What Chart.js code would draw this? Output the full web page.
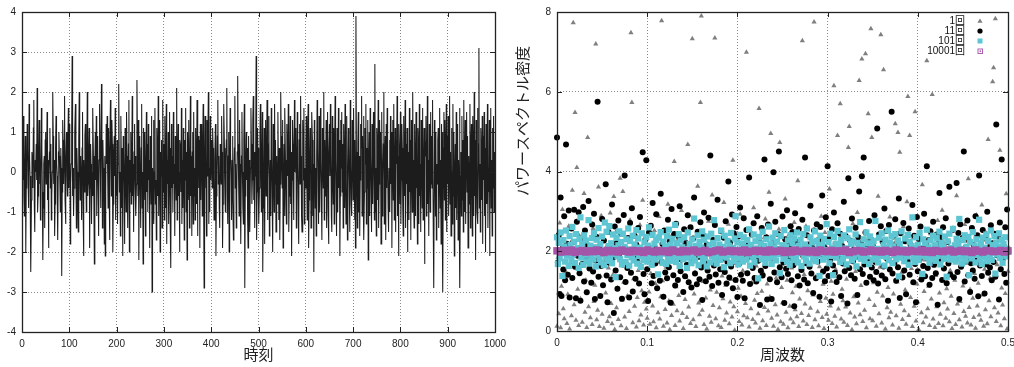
<!DOCTYPE html>
<html>
<head>
<meta charset="utf-8">
<script src="https://cdn.jsdelivr.net/npm/chart.js@4/dist/chart.umd.min.js"></script>
<style>
  html, body { margin: 0; padding: 0; background: #fff; overflow: hidden; width: 1014px; height: 367px; }
  #wrapL { position: absolute; left: 0; top: 0; width: 520px; height: 367px; }
  #wrapR { position: absolute; left: 500px; top: 0; width: 530px; height: 367px; }
</style>
</head>
<body>
<div id="wrapL"><canvas id="timeChart" width="520" height="367"></canvas></div>
<div id="wrapR"><canvas id="psdChart" width="530" height="367"></canvas></div>
<script>
/* ===== Data ===== */

const TIME_TITLE = '時刻';
const FREQ_TITLE = '周波数';
const PSD_TITLE = 'パワースペクトル密度';
const SERIES_NAMES = ['1回', '11回', '101回', '10001回'];

const TIME_TICKS = { min: 0, max: 1000, step: 100 };
const SIGNAL_TICKS = { min: -4, max: 4, step: 1 };
const FREQ_TICKS = { min: 0, max: 0.5, step: 0.1 };
const PSD_TICKS = { min: 0, max: 8, step: 2 };

// time series, t = 0 .. 999
const signal = [
  0.3,-0.2,0.8,1.4,-0.6,-1.1,0.1,0.9,-2.0,-0.4,0.2,1.2,0.6,-0.3,-0.9,1.7,0.4,-0.1,-1.3,-2.5,
  -0.7,0.5,0.2,-0.4,1.1,1.8,-0.8,-1.5,0.3,0.0,0.7,-0.2,2.1,-1.0,-0.6,0.4,1.3,-0.3,0.9,-1.2,
  -0.1,1.6,0.6,-0.5,-2.2,-0.9,0.2,0.4,-1.4,0.8,1.0,-0.3,0.1,1.5,-0.7,0.3,-1.9,-0.2,0.5,1.1,
  -0.4,0.7,-1.2,-0.6,0.0,2.0,0.9,-0.3,0.3,-1.6,-0.8,0.6,1.4,0.2,-0.1,-0.9,-1.7,0.5,1.0,0.4,
  -0.2,-1.0,0.6,0.1,-2.6,-0.5,1.3,0.8,-0.3,0.4,1.9,-0.7,-1.3,0.2,1.0,-0.1,-0.6,0.7,1.6,-0.4,
  0.5,1.2,-1.8,-0.3,0.2,0.9,2.9,-0.6,0.1,-1.1,-0.4,0.3,1.0,1.7,-0.2,-1.4,0.6,0.0,-0.8,-1.5,
  0.8,2.0,0.1,-0.7,0.4,-0.2,-1.2,0.6,1.5,-0.9,-2.1,0.3,-0.5,0.9,1.2,-0.1,-1.0,0.2,2.0,-0.6,
  -0.3,0.5,1.1,-1.9,-0.4,0.7,0.2,-1.3,0.0,-0.6,1.6,0.4,-0.8,-2.3,0.1,1.0,-0.2,1.4,-1.1,0.3,
  0.9,-0.4,-1.6,0.3,1.7,0.6,-0.9,-0.2,2.2,0.5,-1.4,0.8,0.1,-0.3,-1.8,0.4,-2.1,-0.5,1.2,0.2,
  1.4,0.1,-0.9,1.1,-0.3,-1.7,0.5,1.8,0.2,-0.6,1.3,0.7,-2.0,-0.8,0.4,0.9,-0.1,1.6,-1.2,-0.4,
  -0.6,0.8,-1.3,0.2,1.2,2.2,-0.5,0.0,-1.6,1.4,0.3,-0.9,0.6,-2.1,0.9,0.5,-0.3,-1.8,1.1,0.1,
  -1.0,1.5,0.4,-0.2,-1.4,0.7,1.8,-2.0,0.3,-0.5,1.0,-0.8,-0.1,1.9,-0.6,0.2,-1.5,0.5,1.2,-0.3,
  0.4,-1.1,-0.3,2.3,0.8,-0.6,1.3,-2.2,0.1,0.9,-0.4,-1.4,0.6,1.7,-0.9,0.0,-2.3,1.1,0.5,-0.7,
  1.0,-1.6,0.2,1.5,-0.5,0.7,-1.0,1.2,-0.2,0.3,-1.9,0.9,0.6,-0.8,1.4,-3.0,0.1,-0.4,1.3,-1.3,
  0.0,1.6,-0.8,-0.2,-1.7,1.1,0.4,-0.6,1.9,-1.1,0.2,1.3,-2.0,0.5,-0.1,0.8,-1.4,0.6,1.8,-0.5,
  0.7,-1.2,1.4,0.1,-0.9,1.7,-1.8,0.3,-0.3,1.0,-1.3,-0.1,1.5,-0.9,0.6,-2.4,1.2,-0.4,0.4,-1.0,
  1.5,-0.3,0.2,-1.6,0.9,0.4,-0.7,2.1,-1.2,0.1,1.2,-0.6,0.0,-2.0,0.8,0.6,-0.5,1.6,-1.3,0.3,
  -0.9,1.1,0.1,-1.7,0.8,-0.2,1.6,-1.0,0.5,-2.2,1.0,0.3,-0.7,1.3,-1.4,0.2,1.9,-0.6,0.4,-1.6,
  0.5,1.0,-1.3,1.5,-0.6,0.1,-1.2,1.1,0.3,-0.8,1.8,-1.6,0.0,0.9,-0.4,0.8,-1.9,1.2,-0.7,0.6,
  1.2,-1.1,0.4,1.7,-0.8,-2.9,0.3,1.4,-0.4,0.6,-1.6,1.3,-0.1,0.9,2.0,-1.3,0.1,-1.0,1.4,-0.2,
  0.8,0.2,-0.4,1.1,0.6,-0.1,-1.2,-0.5,0.3,1.2,-2.1,-0.6,0.0,0.9,1.8,-0.3,0.4,-0.9,-1.4,0.7,
  0.1,-0.3,1.4,0.5,-1.9,-0.8,0.2,1.7,0.6,-0.2,-1.0,0.3,0.8,2.1,-0.5,-1.3,0.4,1.0,-2.0,-0.1,
  1.6,0.5,-0.2,-1.2,0.3,0.9,-0.7,-1.7,0.1,0.6,1.9,-0.4,0.2,-1.4,-0.6,0.5,2.4,0.7,-0.3,-1.1,
  1.3,0.2,-0.5,-1.8,0.4,1.5,0.0,-0.9,-1.3,0.8,1.7,-2.9,-0.6,0.3,1.0,-0.2,0.6,-1.2,-1.9,0.9,
  -0.4,0.3,-1.5,0.1,1.6,0.7,-0.8,-0.2,1.3,1.9,-0.7,0.5,-1.4,-0.1,0.4,2.9,-1.7,-0.5,1.1,0.2,
  0.6,-1.3,-0.4,0.9,1.7,0.2,-1.0,0.4,1.5,-2.5,-0.9,-0.1,1.1,-1.8,0.3,1.3,-0.6,0.0,1.8,-1.2,
  -0.2,0.7,1.4,-1.6,-0.4,0.3,-1.1,1.6,0.5,-0.7,-2.0,1.2,0.2,-1.0,1.7,-0.3,0.8,-1.5,-0.6,0.4,
  -0.8,1.5,0.1,-1.2,0.6,-1.7,-0.3,2.0,0.9,0.2,-0.4,1.3,-1.9,-0.5,0.7,-1.1,1.6,0.3,-0.6,-1.3,
  1.2,0.4,-0.1,1.7,-1.5,-0.6,0.3,1.4,-0.8,0.5,-2.1,-0.2,1.3,0.7,-0.5,-1.2,1.8,0.0,0.6,1.1,
  -1.4,-0.3,1.5,0.2,-0.9,-1.8,0.8,1.2,-0.3,1.9,0.4,-1.1,-1.5,0.6,1.3,-0.2,1.6,-1.3,0.1,-0.4,
  0.6,1.4,-0.2,-1.2,0.9,1.7,-1.9,-0.7,0.3,1.1,0.5,-1.4,-0.4,1.5,0.8,-1.1,0.2,-2.5,1.3,0.7,
  -0.9,0.1,-1.6,0.4,1.8,0.6,-0.5,-1.3,1.4,-0.1,-1.0,1.6,0.3,-0.7,-1.7,1.1,0.5,-0.4,2.0,-1.2,
  0.8,-0.6,0.2,1.3,-1.4,0.6,1.5,-0.9,-1.8,0.4,1.2,-0.1,1.7,0.5,-1.1,-1.5,1.4,0.0,-0.8,1.1,
  -1.3,0.5,1.9,0.3,-0.7,-1.6,1.1,0.2,-1.0,1.6,-0.4,0.8,-2.1,-0.6,1.3,0.1,1.5,-0.5,0.7,-1.4,
  1.2,0.3,-0.9,1.7,-0.2,-1.3,0.6,1.4,-1.7,-0.4,1.1,0.7,-0.6,-1.5,1.8,0.2,-0.8,-1.1,1.3,0.5,
  -0.7,1.6,0.0,-1.2,0.8,-1.9,3.9,0.5,-0.3,-1.4,0.7,1.5,-1.0,0.4,-1.6,-0.2,1.2,0.6,1.9,-1.1,
  0.9,-0.3,1.4,-1.7,-0.5,1.1,0.2,1.7,-1.3,0.6,-0.4,1.3,-2.2,0.1,1.0,-1.1,1.6,0.4,-0.6,-1.5,
  1.2,0.4,-0.8,1.5,0.3,-1.2,2.7,-1.0,0.1,-1.6,1.1,0.6,-0.7,1.8,-1.4,-0.3,1.3,0.5,1.0,-1.8,
  0.4,1.5,-1.1,-0.2,0.7,2.0,-1.3,0.2,0.9,-1.7,1.2,-0.4,1.6,0.3,-0.9,-1.5,0.1,0.8,-1.0,1.4,
  -0.3,1.0,-1.9,0.5,1.3,-0.7,1.7,-1.2,-0.1,1.1,-1.5,0.8,0.2,1.9,-1.1,0.4,-2.1,1.2,0.3,-0.8,
  1.5,-1.3,-0.2,1.2,0.6,-0.9,-1.6,1.4,0.2,-0.6,1.8,-1.4,0.7,-0.3,1.1,-2.0,0.0,0.5,-1.2,1.6,
  -0.5,0.8,-1.7,1.3,0.4,-1.0,2.0,0.3,-0.7,-1.4,1.2,0.1,-1.1,1.5,-0.4,0.7,-1.8,1.1,0.6,-1.3,
  1.7,-0.6,0.2,-1.5,1.3,0.5,-0.9,1.6,-1.2,-0.3,1.1,-2.3,0.8,0.4,1.4,-1.1,-0.2,1.9,-0.8,0.3,
  -1.6,1.2,0.5,-1.0,1.5,-0.3,0.9,-0.4,1.8,-0.7,-1.2,-2.9,1.3,0.4,-1.1,1.0,-1.7,0.2,-0.3,0.8,
  1.1,-1.4,0.1,1.6,-0.9,0.3,-1.8,1.2,-0.5,1.0,-3.0,0.6,1.5,-0.7,1.3,-1.2,0.4,1.7,-1.5,0.9,
  -0.3,1.4,-1.1,0.0,1.9,-0.8,0.5,-1.6,1.1,0.2,-1.3,1.7,-0.6,1.0,-2.1,-0.2,0.7,-0.9,1.5,-1.2,
  0.6,1.2,-1.7,0.3,-0.4,1.6,-2.9,-0.1,0.5,-1.1,1.4,-0.7,0.8,-1.5,1.8,0.1,-1.0,1.3,-1.3,0.7,
  1.5,-0.5,0.9,-1.9,0.2,0.4,-0.8,1.7,-1.4,0.6,1.2,-0.3,-1.6,1.4,0.5,-1.1,2.0,-0.6,0.8,-2.2,
  1.3,0.3,-1.0,1.6,-1.3,0.7,3.1,-0.9,0.2,-1.5,1.1,0.5,-0.7,1.4,-1.8,0.9,-0.2,1.5,-1.1,0.6,
  -2.0,1.2,0.4,-0.8,1.7,-1.4,0.1,-0.5,1.3,-2.1,0.7,1.6,-0.9,0.3,-1.6,1.1,-0.4,1.4,-1.0,0.5
];

// spectra, frequency step 0.001 (0 .. 0.5)
const psd1 = [
  0.12,1.85,0.43,2.71,0.08,1.12,3.05,0.56,0.31,2.24,
  1.48,0.19,0.92,2.63,0.05,1.71,0.38,3.53,7.73,0.66,
  5.48,0.27,4.1,1.05,0.14,2.38,0.81,1.62,0.22,3.12,
  3.45,0.47,1.28,0.09,4.85,0.61,2.05,0.33,1.94,0.16,
  2.57,0.74,1.15,7.2,0.28,0.52,3.61,0.11,1.37,2.89,
  0.42,9.1,0.07,1.76,0.95,2.12,0.24,1.58,0.36,2.96,
  0.69,0.18,1.41,3.37,0.04,2.47,0.58,1.08,0.29,1.89,
  3.83,0.13,0.77,3.5,1.22,0.35,2.31,0.06,0.88,1.67,
  0.49,2.78,7.48,5.73,0.21,1.31,0.62,2.18,0.1,0.84,
  1.52,0.26,2.66,0.4,1.01,3.28,0.15,0.72,1.83,0.55,
  0.32,2.09,0.98,0.17,1.44,10.2,0.63,0.23,2.52,1.19,
  0.08,1.73,0.46,2.87,0.3,0.86,7.78,1.26,0.12,2.01,
  0.54,1.6,0.2,3.18,0.75,0.03,1.96,0.39,2.42,0.67,
  4.25,0.14,1.11,0.51,2.29,0.89,0.25,1.65,3.02,0.44,
  0.06,2.21,0.79,1.34,0.34,4.68,0.6,1.87,0.19,2.59,
  7.33,0.28,0.93,1.47,0.11,2.14,3.63,0.7,0.41,5.73,
  7.9,0.52,1.24,0.16,2.36,0.83,0.05,1.56,2.75,0.37,
  1.03,0.22,3.41,0.64,1.79,7.35,0.31,0.97,2.03,0.13,
  0.58,2.49,0.09,1.38,0.81,3.22,0.27,1.15,0.45,1.92,
  2.68,0.18,0.73,1.29,0.35,4.28,0.61,0.02,1.69,2.27,
  0.48,1.07,0.24,2.93,0.87,0.15,1.51,0.38,8.6,0.69,
  6.99,0.33,1.82,0.1,2.11,0.56,1.21,0.29,3.09,0.77,
  0.2,1.63,0.94,0.43,5.58,0.07,2.34,1.0,0.26,1.45,
  0.59,2.81,0.14,1.18,0.5,3.48,0.85,4.95,0.32,1.74,
  0.12,2.19,0.66,1.33,0.4,0.04,2.55,4.73,0.23,1.09,
  0.71,0.17,1.94,3.31,0.47,1.27,0.08,2.41,0.62,0.3,
  1.58,0.96,0.21,2.72,0.53,1.12,0.36,3.77,0.11,0.8,
  2.06,0.44,7.28,0.25,1.42,0.68,2.63,0.16,1.01,0.39,
  3.14,0.57,1.76,0.09,0.9,7.75,0.28,1.36,2.24,0.48,
  0.13,1.61,0.74,2.88,0.34,1.17,0.06,2.47,0.82,0.42,
  1.99,0.27,3.56,0.63,1.25,0.19,0.92,6.15,0.37,1.54,
  0.1,4.9,0.55,2.16,5.7,0.3,1.05,0.76,0.22,2.38,
  0.6,1.3,0.14,4.6,5.13,0.45,1.88,0.03,2.69,0.86,
  0.35,1.49,0.18,2.97,0.7,6.28,0.41,1.14,6.82,0.24,
  1.67,0.52,6.95,0.08,2.27,5.45,0.79,0.31,7.58,4.85,
  0.26,1.21,0.64,2.04,0.12,0.97,3.38,0.43,1.6,7.43,
  0.2,0.88,6.55,1.35,0.05,2.51,0.58,1.09,0.33,2.86,
  0.47,1.72,0.15,0.93,2.2,5.2,0.38,1.23,4.98,0.07,
  4.48,0.67,1.46,0.29,2.62,0.51,1.03,0.17,3.24,5.88,
  0.39,4.9,0.84,1.57,0.11,2.33,0.62,5.5,0.25,1.18,
  0.73,0.04,2.09,1.31,0.46,3.67,0.21,0.99,1.78,0.35,
  6.78,0.56,1.12,0.14,2.44,0.8,5.93,0.3,1.63,0.09,
  1.39,0.61,2.77,0.19,0.95,0.42,1.84,3.03,0.13,0.71,
  2.15,0.32,1.06,0.55,8.9,0.23,1.52,0.87,0.06,2.58,
  0.44,1.27,0.16,3.39,0.68,1.95,0.28,0.74,2.3,0.1,
  1.13,0.49,2.67,0.37,1.7,0.2,3.82,0.59,1.04,0.15,
  2.22,0.82,0.34,1.44,0.07,2.91,0.63,1.2,0.4,1.86,
  0.27,3.16,0.9,0.12,1.55,0.53,2.45,0.18,4.8,0.76,
  1.32,0.36,2.02,6.25,6.6,0.58,7.83,0.24,1.66,0.45,
  2.71,4.53,0.13,1.08,0.65,2.19,0.31,0.94,3.44,0.05,
  1.5
];

const psd11 = [
  4.85,1.72,2.41,0.93,3.35,0.88,2.06,1.54,2.88,1.27,
  4.68,2.19,1.41,3.02,0.84,1.96,2.57,1.33,2.23,3.04,
  1.61,0.82,2.74,1.89,2.98,1.45,0.76,2.31,1.68,3.11,
  1.24,2.52,1.83,0.97,2.15,3.26,1.57,2.03,1.21,2.67,
  1.49,2.94,0.8,1.77,2.36,5.75,1.36,2.12,0.88,1.63,
  2.81,1.15,2.27,1.92,3.68,1.39,0.72,2.48,1.71,2.09,
  1.29,3.17,1.84,0.45,2.62,1.52,2.2,1.06,2.77,1.93,
  1.35,2.44,0.81,1.67,2.91,3.9,1.23,2.05,1.58,2.33,
  0.84,2.71,1.46,3.08,0.99,1.85,2.39,1.31,2.16,1.74,
  2.58,1.19,2.86,1.62,2.0,4.48,1.43,0.92,2.29,4.28,
  1.55,0.75,2.47,1.81,2.64,1.2,3.21,1.38,2.11,1.69,
  2.93,1.07,1.89,2.35,1.26,3.44,1.73,2.18,0.86,2.52,
  1.47,2.08,1.32,2.79,1.6,2.25,0.71,3.06,1.88,1.4,
  2.43,1.14,2.69,1.95,1.28,2.37,3.13,1.5,1.79,2.02,
  0.98,2.55,1.37,2.21,1.66,2.9,1.22,1.97,2.6,1.09,
  1.76,2.32,3.35,1.44,2.13,1.17,2.49,1.86,1.3,2.73,
  1.59,0.78,2.4,2.97,1.7,1.25,2.17,1.52,2.84,1.36,
  4.4,1.91,1.13,2.28,1.64,2.66,1.42,1.99,3.29,1.21,
  2.06,1.55,2.5,0.9,1.82,2.34,1.48,2.75,1.19,1.73,
  3.75,1.34,2.22,1.62,2.92,1.07,2.45,1.8,1.28,2.61,
  0.85,2.37,1.69,3.1,1.41,2.04,1.26,2.83,0.82,1.93,
  2.53,1.45,2.15,3.85,1.18,1.87,2.42,1.58,2.7,1.33,
  1.99,1.24,2.88,1.76,2.26,0.65,1.51,2.58,1.39,2.1,
  4.3,1.63,2.35,0.79,2.67,1.83,1.3,3.19,0.8,2.2,
  3.98,1.47,2.74,1.95,1.22,2.43,4.5,1.6,2.06,1.35,
  2.87,1.72,0.7,2.3,1.56,3.03,1.43,2.14,1.84,2.63,
  1.27,2.48,1.65,0.62,2.95,1.78,2.23,1.37,2.56,1.14,
  2.02,1.53,2.79,1.88,1.29,4.35,1.7,2.4,1.2,2.17,
  1.61,3.14,1.44,2.09,0.95,2.52,1.82,1.32,2.68,1.74,
  2.28,0.86,2.61,1.9,3.4,1.49,2.11,1.25,2.85,1.57,
  4.13,1.38,2.33,1.79,0.74,2.55,1.64,2.97,1.46,2.19,
  1.23,2.7,1.85,1.35,2.44,0.88,2.13,1.69,3.24,1.5,
  2.38,1.93,0.69,3.83,1.58,2.27,1.4,2.82,1.75,2.04,
  1.31,2.59,1.86,0.9,2.35,3.5,1.55,2.2,3.88,1.43,
  4.35,1.67,2.47,1.21,2.08,1.8,2.76,1.36,2.3,1.59,
  2.14,1.27,2.9,1.73,1.48,5.08,1.19,2.42,1.92,2.63,
  1.39,2.24,1.62,3.07,1.3,2.51,1.81,0.76,2.66,1.54,
  2.01,5.5,1.44,2.37,1.71,2.8,1.26,2.12,1.6,3.32,
  0.83,2.45,1.87,1.34,2.71,1.52,2.25,0.92,2.03,1.76,
  2.57,1.41,2.16,1.95,3.16,1.22,2.39,1.68,0.72,2.86,
  1.5,2.31,1.8,2.62,1.29,2.07,1.63,2.94,1.37,2.18,
  4.13,1.58,2.28,1.16,2.5,1.89,1.33,2.74,1.66,2.11,
  1.45,2.42,0.66,2.19,3.46,1.74,2.36,1.28,2.6,1.57,
  1.92,2.83,1.2,2.23,1.69,3.62,1.42,2.05,1.84,2.54,
  1.35,2.12,1.78,3.71,1.48,2.46,0.8,2.68,1.61,1.97,
  2.34,4.5,1.24,2.09,1.83,2.77,1.4,2.26,0.98,1.7,
  2.58,1.52,2.15,1.31,2.88,1.76,2.4,0.87,3.9,1.64,
  2.01,1.38,2.53,1.85,0.94,2.32,1.67,2.99,1.46,2.1,
  1.59,2.65,1.27,2.2,1.73,2.44,1.36,5.18,1.9,2.37,
  0.79,2.72,1.55,4.3,1.8,2.14,1.43,2.6,1.21,3.05,
  1.98
];

const psd101 = [
  2.35,1.68,2.21,1.82,2.47,1.95,1.38,2.28,2.12,1.74,
  2.52,1.89,2.05,1.63,2.38,2.16,1.78,2.61,1.92,2.24,
  1.71,2.43,1.97,2.08,1.58,2.31,2.85,1.84,2.19,1.66,
  2.4,1.91,2.27,1.75,2.02,2.78,1.69,2.14,1.86,2.33,
  1.79,2.46,2.1,1.62,2.29,1.94,2.58,1.81,2.18,1.72,
  2.37,2.01,1.65,2.72,1.88,2.49,1.76,2.13,2.63,1.83,
  2.2,1.7,2.42,1.93,2.07,1.35,2.34,1.87,2.15,2.5,
  1.8,2.23,1.67,2.44,1.98,2.11,1.73,2.3,1.9,2.57,
  1.64,2.26,2.04,1.85,2.39,1.77,2.17,1.95,2.53,1.69,
  2.32,1.88,2.09,1.61,2.45,2.0,1.78,2.22,1.92,2.36,
  1.74,2.14,2.6,1.83,2.06,1.66,2.41,1.9,2.19,1.79,
  2.28,1.97,1.42,2.34,1.86,2.48,2.03,1.71,2.24,1.94,
  2.12,1.68,2.38,1.82,2.54,1.99,2.16,1.76,2.31,1.89,
  2.07,2.66,1.73,2.2,1.85,2.43,1.63,2.27,1.96,2.1,
  1.8,2.35,1.93,2.05,1.58,2.47,1.84,2.18,2.01,1.7,
  2.3,1.87,2.82,1.77,2.13,1.95,2.4,1.65,2.23,1.9,
  2.09,2.5,1.75,2.29,1.83,2.02,1.62,2.37,1.98,2.15,
  1.72,2.44,1.88,2.21,2.78,1.81,2.06,1.69,2.33,1.93,
  2.17,1.78,2.52,1.87,2.11,1.6,2.39,2.0,1.84,2.26,
  1.95,2.14,1.7,2.46,1.91,2.08,1.76,2.32,2.88,1.82,
  2.22,1.67,2.04,2.41,1.86,2.19,1.74,2.35,1.97,2.1,
  1.79,2.28,1.92,2.55,1.64,2.16,2.03,1.85,2.42,1.73,
  2.25,1.9,2.07,1.32,2.36,1.99,2.2,1.8,2.49,1.88,
  2.13,1.71,2.3,2.01,1.83,2.62,1.94,2.18,1.68,2.34,
  1.86,2.09,2.45,1.77,2.24,1.93,2.05,1.45,2.38,1.96,
  2.15,1.81,2.53,1.89,2.11,1.74,2.27,2.02,1.66,2.4,
  1.91,2.2,1.78,2.32,2.0,1.85,2.47,1.72,2.14,1.95,
  2.29,1.63,2.06,2.43,1.87,2.17,1.76,2.57,1.92,2.1,
  1.69,2.35,1.98,2.22,1.82,2.04,2.5,1.75,2.26,1.9,
  2.12,1.38,2.39,1.94,2.16,1.79,2.31,2.03,1.86,2.68,
  1.93,2.23,1.7,2.44,1.88,2.08,1.4,2.36,1.99,2.19,
  1.84,2.51,1.96,2.13,1.73,2.28,2.01,1.8,2.4,1.92,
  2.07,1.67,2.33,1.89,2.55,1.97,2.18,1.77,2.25,2.0,
  1.85,2.42,1.62,2.21,1.94,2.1,2.73,1.81,2.14,1.9,
  2.3,1.76,2.04,2.47,1.87,2.2,1.68,2.37,1.98,2.11,
  1.79,2.26,1.93,2.76,1.83,2.06,1.72,2.34,2.02,1.88,
  2.45,1.95,2.15,1.64,2.29,1.86,2.09,2.52,1.78,2.22,
  1.97,2.38,1.7,2.12,1.9,2.43,1.8,2.01,2.27,1.37,
  2.18,1.84,2.5,1.92,2.05,1.75,2.32,2.0,1.87,2.41,
  1.66,2.24,1.96,2.13,2.85,1.82,2.08,1.73,2.35,1.94,
  2.16,1.78,2.46,1.89,2.03,1.43,2.3,1.99,2.2,1.85,
  2.54,1.91,2.1,1.71,2.27,2.0,1.83,2.39,1.95,2.17,
  1.76,2.33,1.88,2.06,2.49,1.67,2.21,1.94,2.12,1.81,
  2.37,1.97,1.36,2.25,1.9,2.44,1.79,2.08,2.02,2.56,
  1.86,2.15,1.74,2.31,1.98,2.19,2.81,1.84,2.05,1.69,
  2.28,1.93,2.4,1.77,2.11,1.89,2.36,1.4,2.23,2.0,
  1.82,2.48,1.96,2.14,1.72,2.3,1.91,2.07,2.79,1.8,
  2.2,1.68,2.34,1.95,2.09,1.85,2.42,1.75,2.26,2.01,
  1.88,2.52,1.78,2.16,1.97,2.38,1.44,2.22,1.92,2.11,
  2.45,1.83,2.04,2.29,1.71,2.18,1.94,2.35,1.87,2.06,
  1.99
];

// frequency step 0.004 (0 .. 0.5)
const psd10001 = [
  2.01,1.98,2.02,1.99,2.03,1.97,2.0,2.02,1.98,2.01,
  1.99,2.03,2.0,1.97,2.02,1.99,2.01,1.98,2.03,2.0,
  1.98,2.02,1.99,2.01,1.97,2.03,2.0,1.98,2.02,1.99,
  2.01,1.97,2.03,2.0,1.98,2.02,1.99,2.01,2.03,1.98,
  2.0,2.02,1.97,1.99,2.01,2.03,1.98,2.0,2.02,1.99,
  2.01,1.98,2.03,1.97,2.0,2.02,1.99,2.01,1.98,2.03,
  1.99,2.0,2.02,1.97,2.01,1.98,2.03,2.0,1.99,2.02,
  1.98,2.01,1.97,2.03,2.0,1.99,2.02,1.98,2.01,2.0,
  2.03,1.97,1.99,2.02,2.01,1.98,2.0,2.03,1.99,2.01,
  1.98,2.02,2.0,1.97,2.03,1.99,2.01,1.98,2.02,2.0,
  1.99,2.03,1.98,2.01,1.97,2.02,2.0,1.99,2.01,2.03,
  1.98,2.0,2.02,1.99,2.01,1.97,2.03,2.0,1.98,2.02,
  2.01,1.99,2.0,2.02,1.98,2.01
];

/* ===== Helpers ===== */

const FONT = '"Liberation Sans", "Noto Sans CJK JP", sans-serif';
const CJK_FONT = '"Noto Sans CJK JP", "Liberation Sans", sans-serif';
Chart.defaults.font.family = FONT;
Chart.defaults.font.size = 10;
Chart.defaults.color = '#222';

function spectrumPoints(values) {
  const step = FREQ_TICKS.max / (values.length - 1);
  return values.map((v, i) => ({ x: +(i * step).toFixed(4), y: v }));
}

function gridScale(t, extra) {
  return Object.assign({
    type: 'linear',
    min: t.min,
    max: t.max,
    ticks: {
      stepSize: t.step, padding: 6, color: '#222', font: { size: 10 },
      callback: v => String(+v.toFixed(3))
    },
    grid: { color: '#8c8c8c', lineWidth: 1, drawTicks: false },
    border: { display: false, dash: [1, 2] }
  }, extra);
}

// gnuplot style frame with inward ticks on all sides
const frameTicks = {
  id: 'frameTicks',
  afterDatasetsDraw(chart) {
    const { ctx, chartArea: a, scales } = chart;
    ctx.save();
    ctx.strokeStyle = '#222';
    ctx.lineWidth = 1;
    ctx.beginPath();
    scales.x.ticks.forEach(t => {
      const px = Math.round(scales.x.getPixelForValue(t.value)) + 0.5;
      ctx.moveTo(px, a.bottom); ctx.lineTo(px, a.bottom - 5);
      ctx.moveTo(px, a.top); ctx.lineTo(px, a.top + 5);
    });
    scales.y.ticks.forEach(t => {
      const py = Math.round(scales.y.getPixelForValue(t.value)) + 0.5;
      ctx.moveTo(a.left, py); ctx.lineTo(a.left + 5, py);
      ctx.moveTo(a.right, py); ctx.lineTo(a.right - 5, py);
    });
    ctx.stroke();
    ctx.lineWidth = 1.3;
    ctx.strokeRect(Math.round(a.left) + 0.5, Math.round(a.top) + 0.5, Math.round(a.width), Math.round(a.height));
    ctx.restore();
  }
};

/* ===== Time series ===== */

new Chart(document.getElementById('timeChart'), {
  type: 'line',
  data: {
    datasets: [{
      data: signal.map((v, i) => ({ x: i, y: v })),
      borderColor: '#1c1c1c',
      borderWidth: 1.05,
      pointRadius: 0,
      tension: 0
    }]
  },
  options: {
    responsive: false,
    animation: false,
    events: [],
    layout: { padding: { left: 0, right: 25, top: 11, bottom: 0 } },
    plugins: { legend: { display: false }, tooltip: { enabled: false } },
    scales: {
      x: gridScale(TIME_TICKS, {
        title: { display: true, text: TIME_TITLE, font: { family: CJK_FONT, size: 15 }, color: '#222', padding: { top: 0, bottom: 4 } },
        afterFit(s) { s.height = 35; }
      }),
      y: gridScale(SIGNAL_TICKS, {
        afterFit(s) { s.width = 22; }
      })
    }
  },
  plugins: [frameTicks]
});

/* ===== Power spectra ===== */

const psdTitle = {
  id: 'psdTitle',
  afterDraw(chart) {
    const { ctx } = chart;
    ctx.save();
    ctx.translate(22, 121);
    ctx.rotate(-Math.PI / 2);
    ctx.font = '15px ' + CJK_FONT;
    ctx.fillStyle = '#222';
    ctx.textAlign = 'center';
    ctx.textBaseline = 'middle';
    ctx.fillText(PSD_TITLE, 0, 0);
    ctx.restore();
  }
};

const markerStyles = [
  { shape: 'triangle', color: '#7f7f7f' },
  { shape: 'circle', color: '#000000' },
  { shape: 'square', color: '#5ec5d3' },
  { shape: 'openSquare', color: '#b060b4' }
];

const psdLegend = {
  id: 'psdLegend',
  afterDraw(chart) {
    const { ctx } = chart;
    SERIES_NAMES.forEach((name, i) => {
      const y = 21 + i * 10;
      const mx = 480;
      const m = markerStyles[i];
      ctx.save();
      ctx.font = '10px ' + FONT;
      ctx.textAlign = 'right';
      ctx.textBaseline = 'middle';
      ctx.fillStyle = '#111';
      ctx.fillText(name, 465, y);
      ctx.fillStyle = m.color;
      ctx.strokeStyle = m.color;
      ctx.beginPath();
      if (m.shape === 'triangle') {
        ctx.moveTo(mx, y - 2.5); ctx.lineTo(mx + 2.6, y + 1.8); ctx.lineTo(mx - 2.6, y + 1.8); ctx.closePath(); ctx.fill();
      } else if (m.shape === 'circle') {
        ctx.arc(mx, y, 2.6, 0, Math.PI * 2); ctx.fill();
      } else if (m.shape === 'square') {
        ctx.fillRect(mx - 2.5, y - 2.5, 5, 5);
      } else {
        ctx.lineWidth = 1;
        ctx.strokeRect(mx - 2, y - 2, 4.5, 4.5);
        ctx.fillRect(mx - 0.5, y - 0.5, 1.5, 1.5);
      }
      ctx.restore();
    });
  }
};

const pointClip = { left: 5, right: 5, top: 0, bottom: 5 };

new Chart(document.getElementById('psdChart'), {
  type: 'scatter',
  data: {
    datasets: [
      {
        label: SERIES_NAMES[0], data: spectrumPoints(psd1), order: 3, clip: pointClip,
        pointStyle: 'triangle', pointRadius: 3, pointBorderWidth: 0,
        backgroundColor: '#7f7f7f', borderColor: '#7f7f7f'
      },
      {
        label: SERIES_NAMES[1], data: spectrumPoints(psd11), order: 2, clip: pointClip,
        pointStyle: 'circle', pointRadius: 3, pointBorderWidth: 0,
        backgroundColor: '#000', borderColor: '#000'
      },
      {
        label: SERIES_NAMES[2], data: spectrumPoints(psd101), order: 1, clip: pointClip,
        pointStyle: 'rect', pointRadius: 4.4, pointBorderWidth: 0,
        backgroundColor: '#5ec5d3', borderColor: '#5ec5d3'
      },
      {
        label: SERIES_NAMES[3], data: spectrumPoints(psd10001), order: 0, clip: pointClip,
        pointStyle: 'rect', pointRadius: 5.3, pointBorderWidth: 0,
        backgroundColor: '#a455a8', borderColor: '#a455a8'
      }
    ]
  },
  options: {
    responsive: false,
    animation: false,
    events: [],
    layout: { padding: { left: 0, right: 22, top: 11, bottom: 0 } },
    plugins: { legend: { display: false }, tooltip: { enabled: false } },
    scales: {
      x: gridScale(FREQ_TICKS, {
        title: { display: true, text: FREQ_TITLE, font: { family: CJK_FONT, size: 15 }, color: '#222', padding: { top: 0, bottom: 4 } },
        afterFit(s) { s.height = 36; }
      }),
      y: gridScale(PSD_TICKS, {
        afterFit(s) { s.width = 57; }
      })
    }
  },
  plugins: [frameTicks, psdTitle, psdLegend]
});
</script>
</body>
</html>
